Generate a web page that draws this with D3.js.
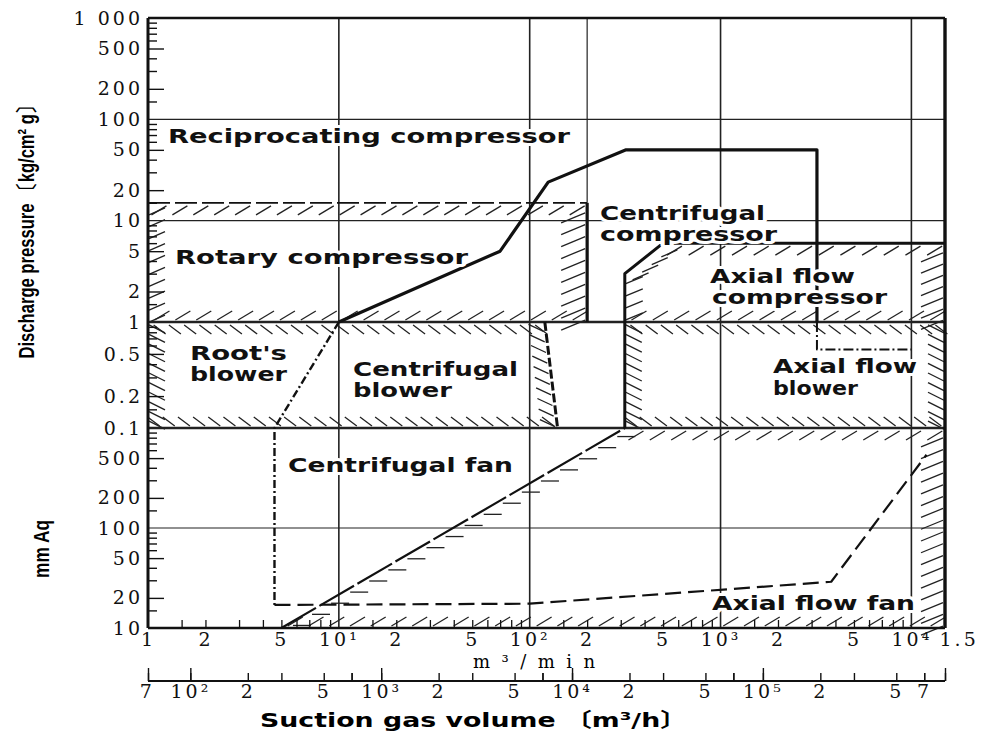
<!DOCTYPE html>
<html>
<head>
<meta charset="utf-8">
<script src="https://cdn.jsdelivr.net/npm/d3@7"></script>
<style>
body { margin: 0; background: #fff; }
.lbl { font-family: "DejaVu Sans", sans-serif; font-weight: bold; font-size: 19px; fill: #111;
       stroke: #fff; stroke-width: 6px; stroke-linejoin: round; paint-order: stroke; }
.tick text { font-family: "DejaVu Serif", serif; font-size: 19px; fill: #111; letter-spacing: 3px; }
</style>
</head>
<body>
<div id="chart"></div>
<script>
// x: suction gas volume in m3/min, y: discharge pressure in kg/cm2 g (mmAq / 1e4 in the fan zone)
const minTicks = [1, 2, 5, 10, 20, 50, 100, 200, 500, 1000, 2000, 5000, 10000, 15000]
const minLabels = ['1', '2', '5', '10¹', '2', '5', '10²', '2', '5', '10³', '2', '5', '10⁴', '1.5']
const hourTicks = [70, 100, 200, 500, 1000, 2000, 5000, 10000, 20000, 50000, 100000, 200000, 500000, 700000]
const hourLabels = ['7', '10²', '2', '5', '10³', '2', '5', '10⁴', '2', '5', '10⁵', '2', '5', '7']
const kgTicks = [1000, 500, 200, 100, 50, 20, 10, 5, 2, 1, 0.5, 0.2, 0.1]
const kgLabels = ['1 000', '500', '200', '100', '50', '20', '10', '5', '2', '1', '0.5', '0.2', '0.1']
const aqTicks = [500, 200, 100, 50, 20, 10]
const aqLabels = ['500', '200', '100', '50', '20', '10']

// region boundaries, [m3/min, kg/cm2]
const reciprocatingEdge = [[10, 1], [70, 5], [125, 24], [320, 50], [3200, 50], [3200, 1]]
const axialDivide = [[3200, 1], [3200, 0.55], [10000, 0.55]]
const rootsDivide = [[10, 1], [4.6, 0.1], [4.6, 0.0017]]
const rotaryBox = [[1, 1], [200, 15]]
const blowerBox = [[1, 0.1], [1, 1], [120, 1], [140, 0.1]]
const axialCompBox = [[315, 1], [315, 3], [500, 6], [15000, 6], [15000, 1]]
const axialBlowerBox = [[315, 0.1], [15000, 1]]
// fan zone, [m3/min, mmAq]
const axialFanEdge = [[4.6, 17], [100, 17.5], [3800, 29], [12000, 540]]
const centFanEdge = [[5, 10], [315, 1000]]

const width = 983, height = 734
const svg = d3.select('#chart').append('svg')
    .attr('width', width).attr('height', height)

const x = d3.scaleLog().domain([1, 15000]).range([148, 945])
const xh = d3.scaleLog().domain([60, 900000]).range([148, 945])
const y = d3.scaleLog().domain([0.001, 0.1, 1, 1000]).range([628, 428, 322, 18])
const aq = v => v / 10000

const line = d3.line().x(d => x(d[0])).y(d => y(d[1]))
const aqLine = d3.line().x(d => x(d[0])).y(d => y(aq(d[1])))

// grid
const grid = svg.append('g').attr('stroke', '#222').attr('fill', 'none')
grid.selectAll('.v').data([10, 100, 1000, 10000]).enter().append('line')
    .attr('x1', d => x(d)).attr('x2', d => x(d))
    .attr('y1', y(1000)).attr('y2', y(0.001)).attr('stroke-width', 1.6)
grid.append('line').attr('x1', x(200)).attr('x2', x(200))
    .attr('y1', y(1000)).attr('y2', y(15)).attr('stroke-width', 1.2)
grid.selectAll('.h').data([100, 10, aq(100)]).enter().append('line')
    .attr('x1', x(1)).attr('x2', x(15000))
    .attr('y1', d => y(d)).attr('y2', d => y(d)).attr('stroke-width', 1.2)
grid.selectAll('.hb').data([1, 0.1]).enter().append('line')
    .attr('x1', x(1)).attr('x2', x(15000))
    .attr('y1', d => y(d)).attr('y2', d => y(d)).attr('stroke-width', 2.6)

// hatching
const hatchG = svg.append('g').attr('stroke', '#222').attr('stroke-width', 1.3)
function hatch(p0, p1, step, v, off = [0, 0]) {
    const len = Math.hypot(p1[0] - p0[0], p1[1] - p0[1])
    const n = Math.max(1, Math.round(len / step))
    const pts = d3.range(n).map(i => {
        const t = (i + 0.5) / n
        return [p0[0] + (p1[0] - p0[0]) * t + off[0], p0[1] + (p1[1] - p0[1]) * t + off[1]]
    })
    hatchG.selectAll(null).data(pts).enter().append('line')
        .attr('x1', d => d[0]).attr('y1', d => d[1])
        .attr('x2', d => d[0] + v[0]).attr('y2', d => d[1] + v[1])
}
const P = (q, p) => [x(q), y(p)]

// rotary compressor  "/"
const [r0, r1] = rotaryBox
hatch(P(r0[0], r1[1]), P(r1[0], r1[1]), 21, [-15, 9], [8, 3])
hatch(P(r1[0], r1[1]), P(r1[0], r0[1]), 12, [-24, 10], [-2, 4])
hatch(P(r0[0], r0[1]), P(r1[0], r0[1]), 21, [15, -9], [-4, -2])
hatch(P(r0[0], r1[1]), P(r0[0], r0[1]), 12, [16, -7], [1, 6])

// blowers  "\"
hatch(P(1, 1), P(120, 1), 15, [12, 9], [-2, 3])
hatch(P(1, 0.1), P(140, 0.1), 15, [-12, -9], [4, -2])
hatch(P(1, 1), P(1, 0.1), 10, [16, 8], [1, -2])
hatch(P(120, 1), P(140, 0.1), 11, [-15, -7], [-2, 4])

// axial flow compressor  "/"
const [a0, a1, a2, a3, a4] = axialCompBox
hatch(P(...a2), P(...a3), 21, [-15, 9], [8, 3])
hatch(P(...a1), P(...a2), 12, [16, -7], [3, 10])
hatch(P(...a0), P(...a1), 12, [17, -7], [1, 4])
hatch(P(...a3), P(...a4), 12, [-22, 9], [-2, 4])
hatch(P(...a0), P(...a4), 21, [15, -9], [-4, -2])

// axial flow blower  "\"
const [b0, b1] = axialBlowerBox
hatch(P(b0[0], b1[1]), P(b1[0], b1[1]), 15, [12, 9], [-2, 3])
hatch(P(b0[0], b0[1]), P(b1[0], b0[1]), 15, [-12, -9], [4, -2])
hatch(P(b0[0], b1[1]), P(b0[0], b0[1]), 10, [16, 8], [1, -2])
hatch(P(b1[0], b1[1]), P(b1[0], b0[1]), 10, [-16, -8], [-1, 6])

// fan zone  "/"
hatch(P(315, 0.1), P(15000, 0.1), 21, [-15, 9], [8, 3])
hatch(P(15000, 0.1), P(15000, aq(10)), 12, [-22, 9], [-2, 4])
hatch(P(5, aq(10)), P(15000, aq(10)), 21, [15, -9], [-4, -2])
hatch(P(centFanEdge[0][0], aq(centFanEdge[0][1])), P(centFanEdge[1][0], aq(centFanEdge[1][1])), 22, [18, 0], [2, 3])

// boundaries
const bnd = svg.append('g').attr('fill', 'none').attr('stroke', '#111').attr('stroke-linejoin', 'round')
bnd.append('path').attr('d', line(reciprocatingEdge)).attr('stroke-width', 3.2)
bnd.append('path').attr('d', line(axialDivide)).attr('stroke-width', 2).attr('stroke-dasharray', '10,3,2,3')
bnd.append('path').attr('d', line(rootsDivide)).attr('stroke-width', 2.4).attr('stroke-dasharray', '8,3,2,3')
bnd.append('path').attr('d', aqLine(axialFanEdge)).attr('stroke-width', 2.2).attr('stroke-dasharray', '16,7')
bnd.append('path').attr('d', aqLine(centFanEdge)).attr('stroke-width', 2.2).attr('stroke-dasharray', '40,4')
// rotary compressor box
bnd.append('line').attr('x1', x(r0[0])).attr('x2', x(r1[0])).attr('y1', y(r1[1])).attr('y2', y(r1[1]))
    .attr('stroke-width', 1.8).attr('stroke-dasharray', '22,5')
bnd.append('line').attr('x1', x(r1[0])).attr('x2', x(r1[0])).attr('y1', y(r1[1])).attr('y2', y(r0[1]))
    .attr('stroke-width', 3.2)
// blower right edge
bnd.append('line').attr('x1', x(blowerBox[2][0])).attr('x2', x(blowerBox[3][0]))
    .attr('y1', y(blowerBox[2][1])).attr('y2', y(blowerBox[3][1]))
    .attr('stroke-width', 3).attr('stroke-dasharray', '9,3')
// axial boxes
bnd.append('path').attr('d', line(axialCompBox.slice(0, 4))).attr('stroke-width', 3)
bnd.append('line').attr('x1', x(b0[0])).attr('x2', x(b0[0])).attr('y1', y(b1[1])).attr('y2', y(b0[1]))
    .attr('stroke-width', 3)

// region labels
const labels = [
    {t: 'Reciprocating compressor', x: 168, y: 143, w: 402},
    {t: 'Rotary compressor', x: 175, y: 264, w: 293},
    {t: 'Centrifugal', x: 600, y: 220, w: 165},
    {t: 'compressor', x: 600, y: 241, w: 177},
    {t: 'Axial flow', x: 710, y: 283, w: 145},
    {t: 'compressor', x: 712, y: 304, w: 175},
    {t: "Root's", x: 190, y: 360, w: 97},
    {t: 'blower', x: 190, y: 381, w: 97},
    {t: 'Centrifugal', x: 353, y: 376, w: 165},
    {t: 'blower', x: 353, y: 397, w: 99},
    {t: 'Axial flow', x: 773, y: 373, w: 144},
    {t: 'blower', x: 773, y: 395, w: 85},
    {t: 'Centrifugal fan', x: 288, y: 472, w: 225},
    {t: 'Axial flow fan', x: 712, y: 610, w: 203}
]
svg.append('g').selectAll('text').data(labels).enter().append('text')
    .attr('class', 'lbl')
    .attr('x', d => d.x).attr('y', d => d.y)
    .attr('textLength', d => d.w).attr('lengthAdjust', 'spacingAndGlyphs')
    .text(d => d.t)

// frame
const frame = svg.append('g').attr('fill', 'none').attr('stroke', '#111')
frame.append('line').attr('x1', x(1)).attr('x2', x(15000)).attr('y1', y(1000)).attr('y2', y(1000)).attr('stroke-width', 2.4)
frame.append('line').attr('x1', x(1)).attr('x2', x(15000)).attr('y1', y(0.001)).attr('y2', y(0.001)).attr('stroke-width', 2.6)
frame.append('line').attr('x1', x(1)).attr('x2', x(1)).attr('y1', y(1000)).attr('y2', y(0.001)).attr('stroke-width', 3)
frame.append('line').attr('x1', x(15000)).attr('x2', x(15000)).attr('y1', y(1000)).attr('y2', y(0.001)).attr('stroke-width', 3.4)

// left axis: labels outside, ticks inside
const decades = [0.001, 0.01, 0.1, 1, 10, 100]
const minorY = decades.flatMap(d => [1.5, 3, 4, 6, 7, 8, 9].map(m => d * m))
const majorY = decades.flatMap(d => [2, 5].map(m => d * m))
const yl = svg.append('g').attr('transform', `translate(${x(1)},0)`)
yl.append('g').call(d3.axisRight(y).tickValues(minorY).tickSize(9).tickFormat(''))
yl.append('g').call(d3.axisRight(y).tickValues(majorY).tickSize(16).tickFormat(''))
yl.append('g').call(d3.axisLeft(y).tickValues(kgTicks).tickSize(0).tickPadding(5)
    .tickFormat((d, i) => kgLabels[i]))
yl.append('g').call(d3.axisLeft(y).tickValues(aqTicks.map(aq)).tickSize(0).tickPadding(5)
    .tickFormat((d, i) => aqLabels[i]))
yl.selectAll('.domain').remove()
yl.selectAll('.tick line').attr('stroke', '#111').attr('stroke-width', 1.4)

// bottom axis, m3/min
const minorX = [1, 10, 100, 1000].flatMap(d => [1.5, 2, 3, 4, 5, 6, 7, 8, 9].map(m => d * m))
const xb = svg.append('g').attr('transform', `translate(0,${y(0.001)})`)
xb.append('g').call(d3.axisTop(x).tickValues(minorX).tickSize(8).tickFormat(''))
xb.append('g').call(d3.axisBottom(x).tickValues(minTicks).tickSize(0).tickPadding(5)
    .tickFormat((d, i) => minLabels[i]))
xb.selectAll('.domain').remove()
xb.selectAll('.tick line').attr('stroke', '#111').attr('stroke-width', 1.3)
xb.selectAll('.tick text').filter(d => d === 15000).attr('text-anchor', 'start').attr('dx', -6)

// second axis, m3/h
const minorH = [60, 700, 7000, 70000, 700000, 900000].concat([100, 1000, 10000, 100000].flatMap(d => [1, 2, 3, 5, 7].map(m => d * m)))
const xa = svg.append('g').attr('transform', 'translate(0,681)')
xa.append('line').attr('x1', xh(60)).attr('x2', xh(900000)).attr('stroke', '#111').attr('stroke-width', 2.2)
xa.append('g').call(d3.axisTop(xh).tickValues(minorH).tickSize(8).tickFormat(''))
xa.append('g').call(d3.axisTop(xh).tickValues([100, 1000, 10000, 100000, 60, 900000]).tickSize(13).tickFormat(''))
xa.append('g').call(d3.axisBottom(xh).tickValues(hourTicks).tickSize(0).tickPadding(3)
    .tickFormat((d, i) => hourLabels[i]))
xa.selectAll('.domain').remove()
xa.selectAll('.tick line').attr('stroke', '#111').attr('stroke-width', 1.4)
xa.selectAll('.tick text').filter(d => d === 70).attr('dx', -14)

// fix axis fonts set by d3
svg.selectAll('.tick text').attr('font-family', null).attr('font-size', null)
svg.selectAll('g').filter(function() { return this.getAttribute('font-family') === 'sans-serif' })
    .attr('font-family', null).attr('font-size', null)

// titles
svg.append('text')
    .attr('transform', 'translate(34,228) rotate(-90)')
    .attr('text-anchor', 'middle')
    .attr('font-family', 'Liberation Sans, sans-serif').attr('font-size', 22).attr('font-weight', 600)
    .attr('textLength', 261).attr('lengthAdjust', 'spacingAndGlyphs')
    .text('Discharge pressure 〔kg/cm² g〕')
svg.append('text')
    .attr('transform', 'translate(49,549) rotate(-90)')
    .attr('text-anchor', 'middle')
    .attr('font-family', 'Liberation Sans, sans-serif').attr('font-size', 22).attr('font-weight', 600)
    .attr('textLength', 58).attr('lengthAdjust', 'spacingAndGlyphs')
    .text('mm Aq')
svg.append('text')
    .attr('x', 473).attr('y', 668)
    .attr('font-family', 'DejaVu Serif, serif').attr('font-size', 18)
    .attr('textLength', 122).attr('lengthAdjust', 'spacing')
    .text('m³/min')
svg.append('text')
    .attr('x', 260).attr('y', 727)
    .attr('font-family', 'DejaVu Sans, Noto Sans CJK JP, sans-serif').attr('font-weight', 'bold').attr('font-size', 20)
    .attr('textLength', 427).attr('lengthAdjust', 'spacingAndGlyphs')
    .text('Suction gas volume 〔m³/h〕')
</script>
</body>
</html>
